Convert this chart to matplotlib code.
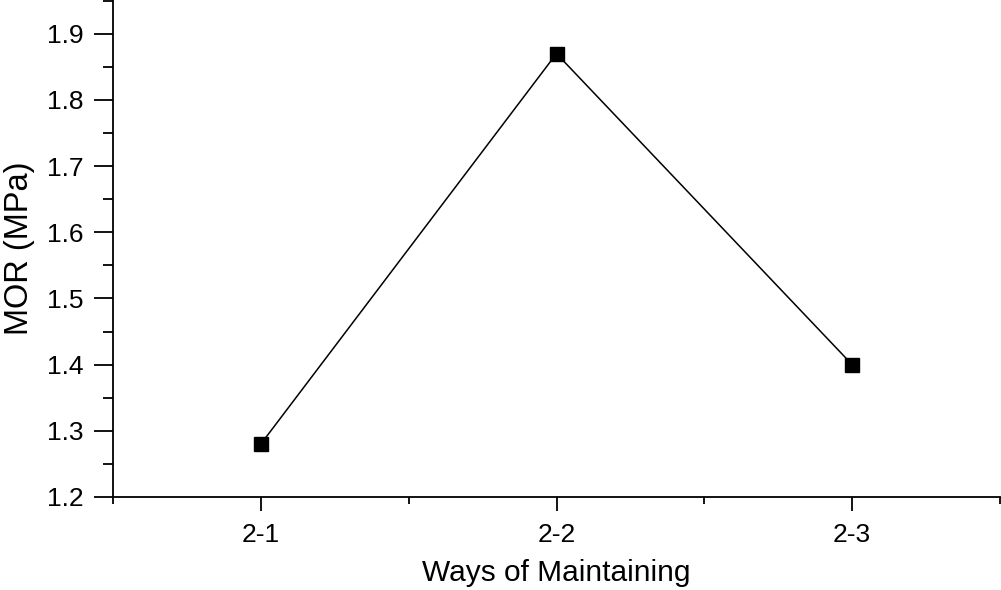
import matplotlib.pyplot as plt
from matplotlib.ticker import MultipleLocator

plt.rcParams['font.family'] = ['Liberation Sans', 'DejaVu Sans']

ways = ["2-1", "2-2", "2-3"]
mor = [1.28, 1.87, 1.40]

fig = plt.figure(figsize=(10.01, 5.9), dpi=100)
ax = fig.add_axes([113 / 1001, 1 - 497 / 590, 887 / 1001, 497 / 590])

x = list(range(1, len(ways) + 1))
ax.plot(x, mor, color="black", linewidth=1.1, marker="s", markersize=10,
        markerfacecolor="black", markeredgecolor="black")

ax.set_xlim(0.5, 3.5)
ax.set_ylim(1.2, 1.951)
ax.set_xticks(x)
ax.set_xticklabels(ways)
ax.xaxis.set_minor_locator(MultipleLocator(1, offset=0.5))
ax.yaxis.set_major_locator(MultipleLocator(0.1))
ax.yaxis.set_minor_locator(MultipleLocator(0.05))

for s in ["top", "right"]:
    ax.spines[s].set_visible(False)
for s in ["left", "bottom"]:
    ax.spines[s].set_linewidth(1.3)

ax.tick_params(axis="y", which="major", direction="out", length=14, width=1.3,
               labelsize=19, pad=7)
ax.tick_params(axis="y", which="minor", direction="out", length=7, width=1.3)
ax.tick_params(axis="x", which="major", direction="out", length=10, width=1.3,
               labelsize=19, pad=9)
ax.tick_params(axis="x", which="minor", direction="out", length=5, width=1.3)

ax.set_xlabel("Ways of Maintaining", fontsize=21.5, labelpad=8.5)
ax.set_ylabel("MOR (MPa)", fontsize=23.5, labelpad=9)

fig.savefig("out.png", dpi=100)
